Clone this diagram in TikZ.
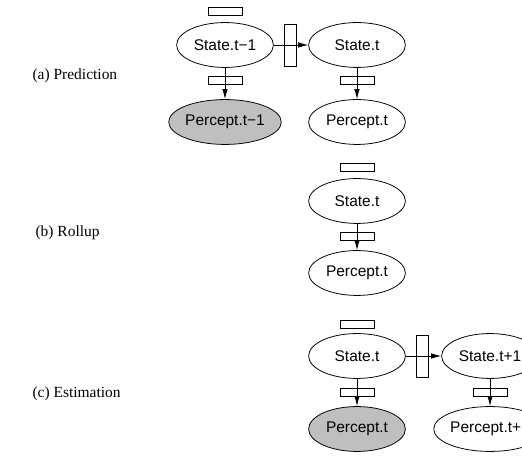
\documentclass[tikz,border=0pt]{standalone}
\usepackage{fontspec}
\setmainfont{Liberation Serif}
\setsansfont{Liberation Sans}
\usetikzlibrary{positioning, shapes.geometric, arrows.meta}
\tikzset{var/.style = {ellipse,draw,minimum width=62.5pt,minimum height=29pt,inner sep=0pt,font=\sffamily},
         seen/.style = {var,fill=black!25},
         pot/.style = {rectangle,draw,minimum width=22pt,minimum height=5.2pt,inner sep=0pt},
         vpot/.style = {rectangle,draw,minimum width=7.8pt,minimum height=27pt,inner sep=0pt}}

\begin{document}
\begin{tikzpicture}[x=0.646pt,y=-0.646pt,line width=0.5pt,>={Latex[length=6.5pt,width=3.5pt]}]
                \clip (0,0) rectangle (522,459);
                \node[anchor=west] (la) at (27,76)  {(a) Prediction};
                \node[anchor=west] (lb) at (30,233) {(b) Rollup};
                \node[anchor=west] (lc) at (27,394) {(c) Estimation};
                % (a)
                \begin{scope}[shift={(0,45)}]
                    \node[var]  (S0)  at (225,0)  {State.t−1};
                    \node[var]  (S1)  at (357,0)  {State.t};
                    \node[seen] (P0)  at (225,77) {Percept.t−1};
                    \node[var]  (P1)  at (357,77) {Percept.t};
                    \node[pot]  (BS0) at (225,-34) {};
                    \node[pot]  (BP0) at (225,35) {};
                    \node[pot]  (BP1) at (357,35) {};
                    \node[vpot] (BT)  at (290,0)  {};
                    \draw[->] (S0) -- (S1);
                    \draw[->] (S0) -- (P0);
                    \draw[->] (S1) -- (P1);
                \end{scope}
                % (b)
                \begin{scope}[shift={(0,201)}]
                    \node[var]  (S)  at (357,0)  {State.t};
                    \node[var]  (P)  at (357,72) {Percept.t};
                    \node[pot]  (BS) at (357,-34) {};
                    \node[pot]  (BP) at (357,35) {};
                    \draw[->] (S) -- (P);
                \end{scope}
                % (c)
                \begin{scope}[shift={(0,356)}]
                    \node[var]  (S1)  at (357,0)  {State.t};
                    \node[var]  (S2)  at (490,0)  {State.t+1};
                    \node[seen] (P1)  at (357,73) {Percept.t};
                    \node[var]  (P2)  at (490,73) {Percept.t+1};
                    \node[pot]  (BS1) at (357,-32) {};
                    \node[pot]  (BP1) at (357,36) {};
                    \node[pot]  (BP2) at (490,36) {};
                    \node[vpot] (BT)  at (422,0)  {};
                    \draw[->] (S1) -- (S2);
                    \draw[->] (S1) -- (P1);
                    \draw[->] (S2) -- (P2);
                \end{scope}
\end{tikzpicture}
\end{document}
